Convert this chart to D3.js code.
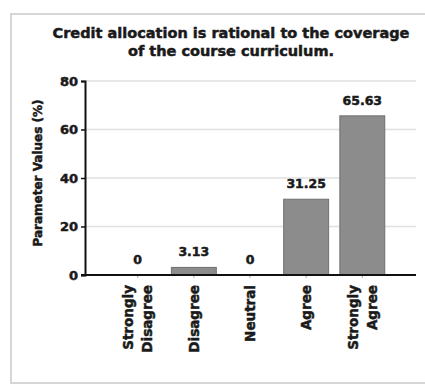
<!DOCTYPE html>
<html lang="en">
<head>
<meta charset="utf-8">
<title>Credit allocation bar chart</title>
<script src="https://d3js.org/d3.v7.min.js"></script>
<style>
  body { margin: 0; background: #fff; }
  text { font-family: "DejaVu Sans", sans-serif; font-weight: bold; fill: #1a1a1a; stroke: #1a1a1a; stroke-width: 0.5; }
</style>
</head>
<body>
<script>
// data
var categories = ["Strongly Disagree", "Disagree", "Neutral", "Agree", "Strongly Agree"];
var values = [0, 3.13, 0, 31.25, 65.63];
var valueLabels = ["0", "3.13", "0", "31.25", "65.63"];
var yTicks = [0, 20, 40, 60, 80];

var width = 425, height = 387;

var svg = d3.select("body").append("svg")
    .attr("width", width)
    .attr("height", height);

// light scanned frame
svg.append("path")
    .attr("d", "M425,14 L11,14 L11,383 L425,383")
    .attr("fill", "none")
    .attr("stroke", "#d6d6d6")
    .attr("stroke-width", 2);

var x = d3.scaleBand()
    .domain(categories)
    .range([104, 396])
    .paddingInner(0.2)
    .paddingOuter(0.2);

var y = d3.scaleLinear()
    .domain([0, 80])
    .range([275, 81]);

var axisLeft = 85, axisRight = 416;

// gridlines
svg.selectAll(".grid")
    .data(yTicks.filter(function(d) { return d > 0; }))
    .enter().append("line")
    .attr("x1", axisLeft).attr("x2", axisRight)
    .attr("y1", function(d) { return y(d); })
    .attr("y2", function(d) { return y(d); })
    .attr("stroke", "#e0e0e0")
    .attr("stroke-width", 1.5);

// bars
svg.selectAll(".bar")
    .data(values)
    .enter().append("rect")
    .attr("x", function(d, i) { return x(categories[i]); })
    .attr("y", function(d) { return y(d); })
    .attr("width", x.bandwidth())
    .attr("height", function(d) { return y(0) - y(d); })
    .attr("fill", "#8c8c8c")
    .attr("stroke", "#707070")
    .attr("stroke-width", 1);

// value labels
svg.selectAll(".val")
    .data(values)
    .enter().append("text")
    .attr("x", function(d, i) { return x(categories[i]) + x.bandwidth() / 2; })
    .attr("y", function(d) { return y(d) - 11; })
    .attr("text-anchor", "middle")
    .attr("font-size", 12.5)
    .text(function(d, i) { return valueLabels[i]; });

// y axis
var yAxis = d3.axisLeft(y).tickValues(yTicks).tickSize(4).tickPadding(3);
var gy = svg.append("g")
    .attr("transform", "translate(" + axisLeft + ",0)")
    .call(yAxis);
gy.select(".domain").attr("stroke", "#111").attr("stroke-width", 2);
gy.selectAll(".tick line").attr("stroke", "#111").attr("stroke-width", 1.5);
gy.selectAll(".tick text")
    .attr("font-size", 13)
    .attr("font-family", "DejaVu Sans, sans-serif")
    .attr("font-weight", "bold")
    .attr("fill", "#1a1a1a");

// x axis
var xAxis = d3.axisBottom(x).tickSize(3).tickFormat("");
var gx = svg.append("g")
    .attr("transform", "translate(0," + y(0) + ")")
    .call(xAxis);
gx.select(".domain").remove();
gx.selectAll(".tick line").attr("stroke", "#aaa");
svg.append("line")
    .attr("x1", axisLeft - 4).attr("x2", axisRight)
    .attr("y1", y(0)).attr("y2", y(0))
    .attr("stroke", "#111")
    .attr("stroke-width", 2);

// rotated category labels
var lab = svg.selectAll(".cat")
    .data(categories)
    .enter().append("text")
    .attr("transform", function(d) {
        return "translate(" + (x(d) + x.bandwidth() / 2) + "," + (y(0) + 10) + ") rotate(-90)";
    })
    .attr("text-anchor", "end")
    .attr("font-size", 13.5);

lab.each(function(d) {
    var words = d.split(" ");
    var t = d3.select(this);
    var n = words.length;
    words.forEach(function(w, k) {
        t.append("tspan")
            .attr("x", 0)
            .attr("y", (k - (n - 1) / 2) * 19 + 5)
            .text(w);
    });
});

// y axis title
svg.append("text")
    .attr("transform", "translate(42,173) rotate(-90)")
    .attr("text-anchor", "middle")
    .attr("font-size", 12)
    .text("Parameter Values (%)");

// chart title
var title = svg.append("text")
    .attr("text-anchor", "middle")
    .attr("font-size", 14.5)
    .attr("stroke-width", 0.7);
title.append("tspan").attr("x", 231).attr("y", 38)
    .text("Credit allocation is rational to the coverage");
title.append("tspan").attr("x", 231).attr("y", 56)
    .text("of the course curriculum.");
</script>
</body>
</html>
